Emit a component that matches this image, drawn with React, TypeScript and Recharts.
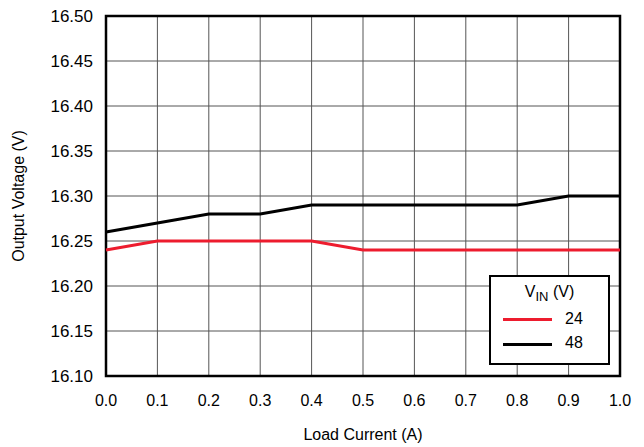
import {
  CartesianGrid,
  Line,
  LineChart,
  ReferenceArea,
  XAxis,
  YAxis,
} from "recharts";

const loadCurrent = [0, 0.1, 0.2, 0.3, 0.4, 0.5, 0.6, 0.7, 0.8, 0.9, 1.0];
const vin24 = [16.24, 16.25, 16.25, 16.25, 16.25, 16.24, 16.24, 16.24, 16.24, 16.24, 16.24];
const vin48 = [16.26, 16.27, 16.28, 16.28, 16.29, 16.29, 16.29, 16.29, 16.29, 16.3, 16.3];
const xTicks = [0, 0.1, 0.2, 0.3, 0.4, 0.5, 0.6, 0.7, 0.8, 0.9, 1.0];
const yTicks = [16.1, 16.15, 16.2, 16.25, 16.3, 16.35, 16.4, 16.45, 16.5];

const data = loadCurrent.map((x, i) => ({ x, v24: vin24[i], v48: vin48[i] }));

const font = "'Liberation Sans', Arial, sans-serif";
const red = "#ed1c2e";

function VinLegend() {
  return (
    <div
      style={{
        position: "absolute",
        left: 489,
        top: 275,
        width: 121,
        height: 90,
        border: "2px solid #000",
        background: "#fff",
        boxSizing: "border-box",
        fontFamily: font,
        fontSize: 16,
        color: "#000",
      }}
    >
      <div style={{ position: "absolute", top: 7, left: 0, width: "100%", textAlign: "center", lineHeight: "16px" }}>
        V<sub style={{ fontSize: 13, verticalAlign: "-4px" }}>IN</sub> (V)
      </div>
      <div style={{ position: "absolute", top: 41, left: 12, width: 49, height: 3, background: red }} />
      <div style={{ position: "absolute", top: 42, left: 74, lineHeight: "0px" }}>24</div>
      <div style={{ position: "absolute", top: 66, left: 12, width: 49, height: 3, background: "#000" }} />
      <div style={{ position: "absolute", top: 66, left: 74, lineHeight: "0px" }}>48</div>
    </div>
  );
}

export default function App() {
  return (
    <div style={{ position: "absolute", left: 0, top: 0, width: 644, height: 447, background: "#fff" }}>
      <LineChart
        width={644}
        height={447}
        data={data}
        margin={{ top: 16, right: 24, bottom: 0, left: 0 }}
        style={{ fontFamily: font }}
      >
        <CartesianGrid stroke="#555" strokeWidth={1} />
        <XAxis
          dataKey="x"
          type="number"
          domain={[0, 1]}
          ticks={xTicks}
          tickFormatter={(v: number) => v.toFixed(1)}
          height={71}
          axisLine={false}
          tickLine={false}
          tick={{ fill: "#000", fontSize: 16, dy: 11 }}
          label={{ value: "Load Current  (A)", position: "insideBottom", offset: 7, fill: "#000", fontSize: 16 }}
        />
        <YAxis
          type="number"
          domain={[16.1, 16.5]}
          ticks={yTicks}
          tickFormatter={(v: number) => v.toFixed(2)}
          width={106}
          axisLine={false}
          tickLine={false}
          tick={{ fill: "#000", fontSize: 17, dx: -5 }}
          label={{
            value: "Output Voltage (V)",
            angle: -90,
            position: "insideLeft",
            offset: 18,
            style: { textAnchor: "middle" },
            fill: "#000",
            fontSize: 16,
          }}
        />
        <Line
          dataKey="v24"
          stroke={red}
          strokeWidth={3}
          dot={false}
          isAnimationActive={false}
        />
        <Line
          dataKey="v48"
          stroke="#000"
          strokeWidth={3}
          dot={false}
          isAnimationActive={false}
        />
        <ReferenceArea
          x1={0}
          x2={1}
          y1={16.1}
          y2={16.5}
          fill="none"
          fillOpacity={0}
          stroke="#000"
          strokeWidth={2.5}
          ifOverflow="visible"
        />
      </LineChart>
      <VinLegend />
    </div>
  );
}
